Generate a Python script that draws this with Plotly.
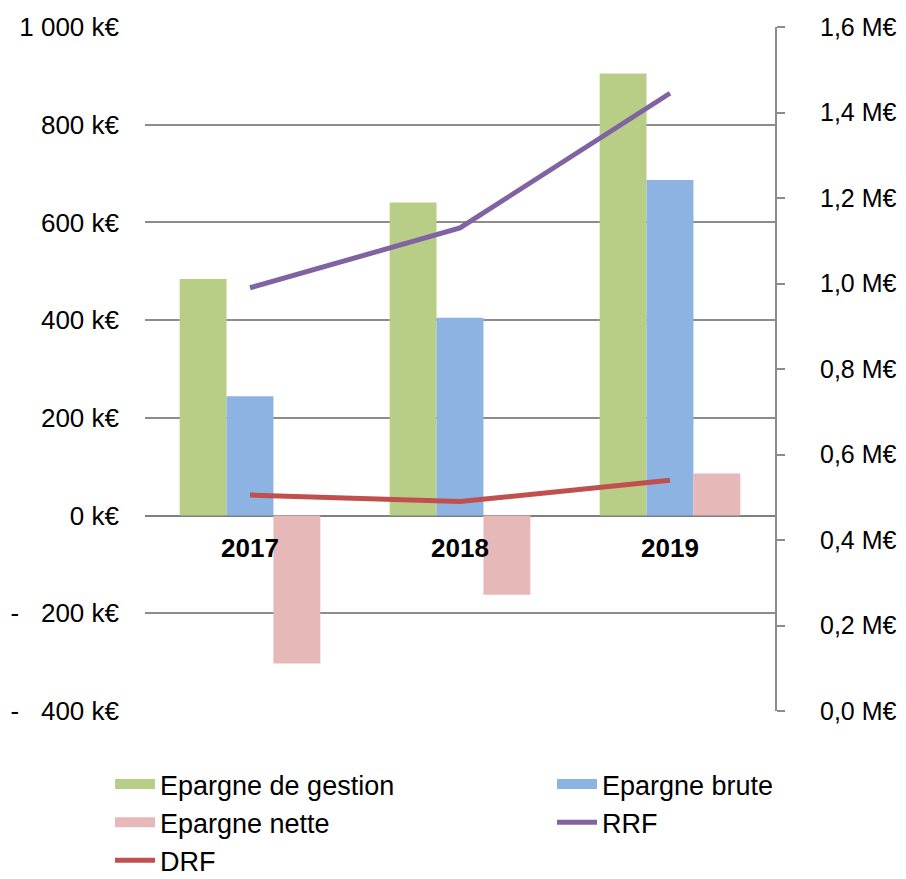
import plotly.graph_objects as go

# Values
years = ['2017', '2018', '2019']
epargne_gestion = [484, 641, 905]   # k€
epargne_brute = [244, 405, 687]     # k€
epargne_nette = [-303, -162, 86]    # k€
rrf = [0.99, 1.13, 1.445]           # M€
drf = [0.505, 0.49, 0.54]           # M€

left_ticks = [-400, -200, 0, 200, 400, 600, 800, 1000]
left_labels = ['-\u00a0\u00a0\u00a0400 k€', '-\u00a0\u00a0\u00a0200 k€', '0 k€', '200 k€',
               '400 k€', '600 k€', '800 k€', '1 000 k€']
right_ticks = [0, 0.2, 0.4, 0.6, 0.8, 1.0, 1.2, 1.4, 1.6]
right_labels = ['0,0 M€', '0,2 M€', '0,4 M€', '0,6 M€', '0,8 M€',
                '1,0 M€', '1,2 M€', '1,4 M€', '1,6 M€']

font = 'Liberation Sans, Arial, sans-serif'
grid = '#8c8c8c'

bars = [
    ('Epargne de gestion', epargne_gestion, '#b8ce86', 'legend'),
    ('Epargne brute', epargne_brute, '#8db3e2', 'legend2'),
    ('Epargne nette', epargne_nette, '#e6b8b7', 'legend'),
]
lines = [
    ('RRF', rrf, '#8064a2', 'legend2'),
    ('DRF', drf, '#c0504d', 'legend'),
]

fig = go.Figure()

for name, vals, color, leg in bars:
    fig.add_trace(go.Bar(x=years, y=vals, name=name, legendgroup=name,
                         showlegend=False,
                         marker=dict(color=color, line=dict(width=0))))
    # legend entry drawn as a wide swatch, like the Excel legend
    fig.add_trace(go.Scatter(x=[None], y=[None], name=name, legendgroup=name,
                             mode='lines', legend=leg,
                             line=dict(color=color, width=13)))

for name, vals, color, leg in lines:
    fig.add_trace(go.Scatter(x=years, y=vals, name=name, yaxis='y2', mode='lines',
                             legend=leg, line=dict(color=color, width=5)))

# the page body adds an 8px margin, so the figure is 8px smaller than the window
W, H = 898, 871

legend_style = dict(
    orientation='v',
    xref='container', yref='container',
    xanchor='left', yanchor='top',
    y=1 - 752 / H,
    font=dict(size=27),
    itemwidth=40,
    traceorder='normal',
    bgcolor='rgba(0,0,0,0)',
)

fig.update_layout(
    width=W,
    height=H,
    plot_bgcolor='white',
    paper_bgcolor='white',
    font=dict(family=font, size=26, color='black'),
    margin=dict(l=137, r=131, t=19, b=168, autoexpand=False),
    barmode='group',
    bargap=0.33,
    bargroupgap=0,
    showlegend=True,
    legend=dict(legend_style, x=102 / W),
    legend2=dict(legend_style, x=544 / W),
    xaxis=dict(
        type='category',
        anchor='free',
        position=400 / 1400,
        showgrid=False,
        showline=False,
        ticks='',
        automargin=False,
        ticklabelstandoff=14,
        tickfont=dict(size=26, family=font, weight='bold'),
    ),
    yaxis=dict(
        range=[-400, 1000],
        tickvals=left_ticks,
        ticktext=left_labels,
        showgrid=True,
        gridcolor=grid,
        gridwidth=2,
        zeroline=True,
        zerolinecolor='#7f7f7f',
        zerolinewidth=2,
        showline=False,
        ticks='',
        automargin=False,
        ticklabelstandoff=25,
    ),
    yaxis2=dict(
        overlaying='y',
        side='right',
        range=[0, 1.6],
        tickvals=right_ticks,
        ticktext=right_labels,
        tickfont=dict(size=25),
        showgrid=False,
        zeroline=False,
        showline=True,
        linecolor=grid,
        linewidth=2,
        ticks='outside',
        ticklen=8,
        tickwidth=2,
        tickcolor=grid,
        automargin=False,
        ticklabelstandoff=30,
    ),
)

fig.write_html('out.html')
